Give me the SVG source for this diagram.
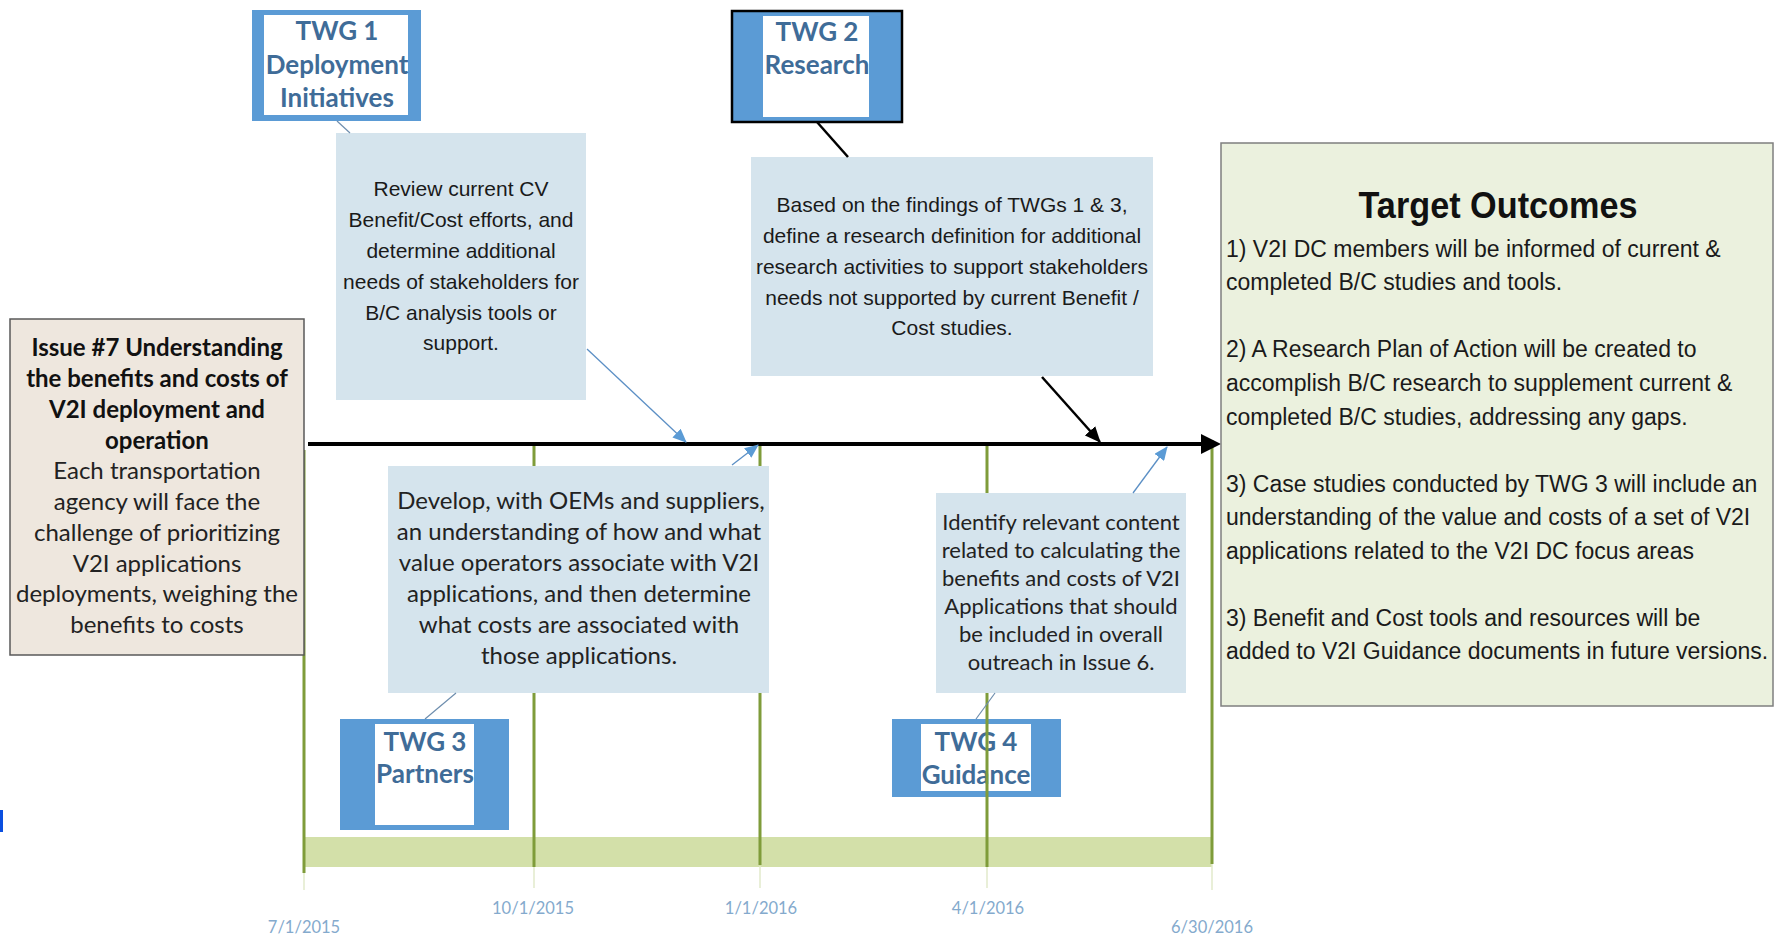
<svg xmlns="http://www.w3.org/2000/svg" width="1779" height="936" viewBox="0 0 1779 936">
  <style>
    .twgOuter { fill: #5B9BD5; }
    .twgInner { fill: #FFFFFF; }
    .twgText { font-family: Lato, "Open Sans", sans-serif; font-weight: bold; font-size: 26px; fill: #3F6C98; text-anchor: middle; }
    .note { fill: #D5E4ED; }
    .arial { font-family: "Liberation Sans", Arial, sans-serif; font-size: 21px; fill: #1A1A1A; text-anchor: middle; }
    .cal { font-family: Lato, "Open Sans", sans-serif; font-size: 24px; fill: #222222; text-anchor: middle; }
    .calSmall { font-family: Lato, "Open Sans", sans-serif; font-size: 22px; fill: #222222; text-anchor: middle; }
    .calBold { font-weight: bold; fill: #111111; }
    .tgt { font-family: "Liberation Sans", Arial, sans-serif; font-size: 23px; fill: #1A1A1A; }
    .date { font-family: Lato, "Open Sans", sans-serif; font-size: 16.5px; fill: #84AACD; text-anchor: middle; }
    .tick { stroke: #7F9C3A; stroke-width: 3; }
    .tickFaint { stroke: #E2EACB; stroke-width: 1.5; }
    .thinBlue { stroke: #5B8FC5; stroke-width: 1.3; fill: none; }
    .thinGray { stroke: #6E8EAE; stroke-width: 1.2; fill: none; }
    .black { stroke: #000000; stroke-width: 2.5; fill: none; }
  </style>
  <defs>
    <marker id="arrowBlue" markerUnits="userSpaceOnUse" markerWidth="14" markerHeight="12" refX="13" refY="6" orient="auto">
      <path d="M0,0 L14,6 L0,12 z" fill="#5B9BD5"/>
    </marker>
    <marker id="arrowBlack" markerUnits="userSpaceOnUse" markerWidth="16" markerHeight="14" refX="15" refY="7" orient="auto">
      <path d="M0,0 L16,7 L0,14 z" fill="#000000"/>
    </marker>
  </defs>

  <rect width="1779" height="936" fill="#FFFFFF"/>

  <!-- timeline base band -->
  <g id="timeline-band">
    <rect x="304" y="837" width="908" height="30" fill="#D3E0A9"/>
  </g>

  <!-- TWG 3 and TWG 4 sit below the axis -->
  <g id="twg3">
    <rect class="twgOuter" x="340" y="719" width="169" height="111"/>
    <rect class="twgInner" x="375" y="724" width="99" height="101"/>
    <text class="twgText" x="425" y="751">TWG 3</text>
    <text class="twgText" x="425" y="783">Partners</text>
  </g>
  <g id="twg4">
    <rect class="twgOuter" x="892" y="719" width="169" height="78"/>
    <rect class="twgInner" x="921" y="724" width="110" height="67"/>
    <text class="twgText" x="976" y="751">TWG 4</text>
    <text class="twgText" x="976" y="784">Guidance</text>
  </g>

  <!-- quarter ticks -->
  <g id="ticks">
    <line class="tickFaint" x1="304" y1="870" x2="304" y2="890"/>
    <line class="tickFaint" x1="534" y1="866" x2="534" y2="888"/>
    <line class="tickFaint" x1="760" y1="866" x2="760" y2="888"/>
    <line class="tickFaint" x1="987" y1="866" x2="987" y2="888"/>
    <line class="tickFaint" x1="1212" y1="864" x2="1212" y2="890"/>
    <line class="tick" x1="304" y1="450" x2="304" y2="873"/>
    <line class="tick" x1="534" y1="446" x2="534" y2="867"/>
    <line class="tick" x1="760" y1="446" x2="760" y2="865"/>
    <line class="tick" x1="987" y1="446" x2="987" y2="867"/>
    <line class="tick" x1="1212" y1="440" x2="1212" y2="864"/>
  </g>

  <g id="dates">
    <text class="date" x="304" y="933">7/1/2015</text>
    <text class="date" x="533" y="914">10/1/2015</text>
    <text class="date" x="761" y="914">1/1/2016</text>
    <text class="date" x="988" y="914">4/1/2016</text>
    <text class="date" x="1212" y="933">6/30/2016</text>
  </g>

  <!-- main axis -->
  <g id="axis">
    <line x1="308" y1="444" x2="1203" y2="444" stroke="#000000" stroke-width="4"/>
    <polygon points="1201,434 1221,444 1201,454" fill="#000000"/>
  </g>

  <g id="issue7">
    <rect x="10" y="319" width="294" height="336" fill="#EEE7DE" stroke="#595959" stroke-width="1.5"/>
    <text class="cal calBold" x="157" y="356">Issue #7 Understanding</text>
    <text class="cal calBold" x="157" y="387">the benefits and costs of</text>
    <text class="cal calBold" x="157" y="418">V2I deployment and</text>
    <text class="cal calBold" x="157" y="449">operation</text>
    <text class="cal" x="157" y="479">Each transportation</text>
    <text class="cal" x="157" y="510">agency will face the</text>
    <text class="cal" x="157" y="541">challenge of prioritizing</text>
    <text class="cal" x="157" y="572">V2I applications</text>
    <text class="cal" x="157" y="602">deployments, weighing the</text>
    <text class="cal" x="157" y="633">benefits to costs</text>
  </g>

  <g id="twg1">
    <rect class="twgOuter" x="252" y="10" width="169" height="111"/>
    <rect class="twgInner" x="264" y="15" width="144" height="100"/>
    <text class="twgText" x="337" y="40">TWG 1</text>
    <text class="twgText" x="337" y="74">Deployment</text>
    <text class="twgText" x="337" y="107">Initiatives</text>
  </g>

  <g id="twg2">
    <rect class="twgOuter" x="732" y="11" width="170" height="111" stroke="#000000" stroke-width="2.5"/>
    <rect class="twgInner" x="763" y="16" width="106" height="101"/>
    <text class="twgText" x="817" y="41">TWG 2</text>
    <text class="twgText" x="817" y="74">Research</text>
  </g>

  <g id="task-review">
    <rect class="note" x="336" y="133" width="250" height="267"/>
    <text class="arial" x="461" y="196">Review current CV</text>
    <text class="arial" x="461" y="227">Benefit/Cost efforts, and</text>
    <text class="arial" x="461" y="258">determine additional</text>
    <text class="arial" x="461" y="289">needs of stakeholders for</text>
    <text class="arial" x="461" y="320">B/C analysis tools or</text>
    <text class="arial" x="461" y="350">support.</text>
  </g>

  <g id="task-research">
    <rect class="note" x="751" y="157" width="402" height="219"/>
    <text class="arial" x="952" y="212">Based on the findings of TWGs 1 &amp; 3,</text>
    <text class="arial" x="952" y="243">define a research definition for additional</text>
    <text class="arial" x="952" y="274">research activities to support stakeholders</text>
    <text class="arial" x="952" y="305">needs not supported by current Benefit /</text>
    <text class="arial" x="952" y="335">Cost studies.</text>
  </g>

  <g id="task-partners">
    <rect class="note" x="388" y="466" width="381" height="227"/>
    <text class="cal" x="581" y="509">Develop, with OEMs and suppliers,</text>
    <text class="cal" x="579" y="540">an understanding of how and what</text>
    <text class="cal" x="579" y="571">value operators associate with V2I</text>
    <text class="cal" x="579" y="602">applications, and then determine</text>
    <text class="cal" x="579" y="633">what costs are associated with</text>
    <text class="cal" x="579" y="664">those applications.</text>
  </g>

  <g id="task-guidance">
    <rect class="note" x="936" y="493" width="250" height="200"/>
    <text class="calSmall" x="1061" y="530">Identify relevant content</text>
    <text class="calSmall" x="1061" y="558">related to calculating the</text>
    <text class="calSmall" x="1061" y="586">benefits and costs of V2I</text>
    <text class="calSmall" x="1061" y="614">Applications that should</text>
    <text class="calSmall" x="1061" y="642">be included in overall</text>
    <text class="calSmall" x="1061" y="670">outreach in Issue 6.</text>
  </g>

  <g id="target-outcomes">
    <rect x="1221" y="143" width="552" height="563" fill="#EBF1DE" stroke="#7F7F7F" stroke-width="1.5"/>
    <text x="1498" y="218" font-family="Liberation Sans, Arial, sans-serif" font-weight="bold" font-size="37" fill="#111111" text-anchor="middle" textLength="279" lengthAdjust="spacingAndGlyphs">Target Outcomes</text>
    <text class="tgt" x="1226" y="257">1) V2I DC members will be informed of current &amp;</text>
    <text class="tgt" x="1226" y="290">completed B/C studies and tools.</text>
    <text class="tgt" x="1226" y="357">2) A Research Plan of Action will be created to</text>
    <text class="tgt" x="1226" y="391">accomplish B/C research to supplement current &amp;</text>
    <text class="tgt" x="1226" y="425">completed B/C studies, addressing any gaps.</text>
    <text class="tgt" x="1226" y="492">3) Case studies conducted by TWG 3 will include an</text>
    <text class="tgt" x="1226" y="525">understanding of the value and costs of a set of V2I</text>
    <text class="tgt" x="1226" y="559">applications related to the V2I DC focus areas</text>
    <text class="tgt" x="1226" y="626">3) Benefit and Cost tools and resources will be</text>
    <text class="tgt" x="1226" y="659">added to V2I Guidance documents in future versions.</text>
  </g>

  <!-- connectors between groups, task notes and the axis -->
  <g id="connectors">
    <line class="thinGray" x1="337" y1="121" x2="350" y2="133"/>
    <line class="thinBlue" x1="587" y1="349" x2="686" y2="442" marker-end="url(#arrowBlue)"/>
    <line class="black" x1="817" y1="122" x2="848" y2="157"/>
    <line class="black" x1="1042" y1="377" x2="1100" y2="442" marker-end="url(#arrowBlack)"/>
    <line class="thinGray" x1="425" y1="719" x2="456" y2="693"/>
    <line class="thinBlue" x1="732" y1="465" x2="758" y2="445" marker-end="url(#arrowBlue)"/>
    <line class="thinGray" x1="976" y1="719" x2="995" y2="693"/>
    <line class="thinBlue" x1="1133" y1="493" x2="1167" y2="447" marker-end="url(#arrowBlue)"/>
  </g>

  <rect id="edge-mark" x="0" y="810" width="3" height="22" fill="#0A4FE0"/>
</svg>
